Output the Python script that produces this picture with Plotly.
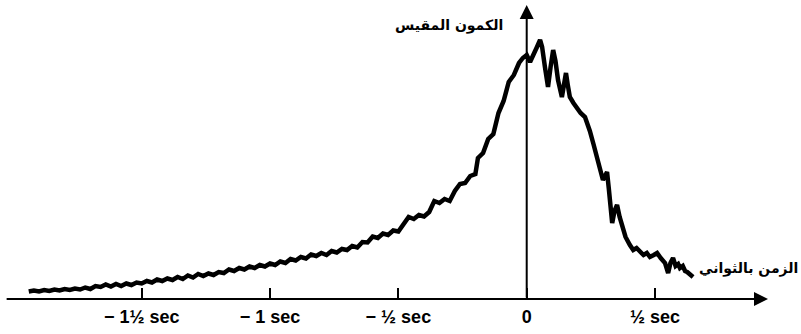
import plotly.graph_objects as go

# Measured potential (arbitrary units) against time in seconds
time_s = [
    -1.94, -1.92, -1.90, -1.88, -1.86, -1.84, -1.82, -1.80, -1.78, -1.76,
    -1.74, -1.72, -1.70, -1.68, -1.66, -1.64, -1.62, -1.60, -1.58, -1.56,
    -1.54, -1.52, -1.50, -1.48, -1.46, -1.44, -1.42, -1.40, -1.38, -1.36,
    -1.34, -1.32, -1.30, -1.28, -1.26, -1.24, -1.22, -1.20, -1.18, -1.16,
    -1.14, -1.12, -1.10, -1.08, -1.06, -1.04, -1.02, -1.00, -0.98, -0.96,
    -0.94, -0.92, -0.90, -0.88, -0.86, -0.84, -0.82, -0.80, -0.78, -0.76,
    -0.74, -0.72, -0.70, -0.68, -0.66, -0.64, -0.62, -0.60, -0.58, -0.56,
    -0.54, -0.52, -0.50, -0.48, -0.46, -0.44, -0.42, -0.40, -0.38, -0.36,
    -0.34, -0.32, -0.30, -0.28, -0.26, -0.24, -0.22, -0.20, -0.19, -0.17,
    -0.15, -0.13, -0.11, -0.09, -0.07, -0.05, -0.03, -0.015, 0.000, 0.013,
    0.025, 0.040, 0.052, 0.060, 0.071, 0.083, 0.093, 0.103, 0.112, 0.122,
    0.137, 0.147, 0.153, 0.160, 0.168, 0.182, 0.196, 0.210, 0.227, 0.236,
    0.246, 0.260, 0.274, 0.285, 0.297, 0.305, 0.313, 0.320, 0.325, 0.333,
    0.342, 0.352, 0.362, 0.372, 0.385, 0.402, 0.415, 0.428, 0.441, 0.455,
    0.468, 0.480, 0.495, 0.508, 0.522, 0.539, 0.551, 0.560, 0.570, 0.580,
    0.590, 0.597, 0.608, 0.617, 0.625, 0.635, 0.648,
]
potential = [
    7.5, 8.5, 7.5, 9, 8, 9.5, 8.5, 10, 9, 10.5,
    9.5, 11.5, 10, 13, 12, 14.5, 12.5, 15, 13, 15.5,
    14, 16.5, 15.5, 18, 16.5, 19.5, 18, 20.5, 19, 22,
    20, 23.5, 21.5, 25, 23, 25.5, 24, 27, 26, 29.5,
    28, 31, 29.5, 32.5, 31, 34, 32.5, 35.5, 34, 37.5,
    36, 40, 38.5, 42, 40.5, 44.5, 43, 46, 44, 48,
    46.5, 50, 49, 53, 51.5, 57, 56.5, 62.5, 61, 65.5,
    64, 68.5, 67.5, 74, 82, 80, 84, 82.5, 87, 98,
    96, 100, 98, 108, 115, 116, 123, 125, 141, 146,
    160, 165, 186, 198, 217, 224, 236, 241, 244, 237,
    243, 252, 259, 252, 232, 212, 232, 249, 238, 219,
    202, 214, 226, 214, 202, 196, 191, 186, 182, 176,
    168, 155, 142, 130, 119, 123, 127, 110, 96, 76,
    88, 94, 82, 72, 62, 54, 49, 51, 47, 44,
    46, 42, 44, 46, 41, 36, 26, 36, 41, 33,
    35, 31, 33, 28, 27, 25, 22,
]

tick_values = [-1.5, -1.0, -0.5, 0.0, 0.5]
tick_labels = ["− 1½ sec", "− 1 sec", "− ½ sec", "0", "½ sec"]

y_label = "الكمون المقيس"
x_label = "الزمن بالثواني"

fig = go.Figure()
fig.add_trace(go.Scatter(
    x=time_s, y=potential, mode="lines",
    line=dict(color="black", width=4.5),
    hoverinfo="skip", showlegend=False,
))

x_min, x_max = -2.052, 1.0686
fig.update_layout(
    width=801, height=334,
    margin=dict(l=0, r=0, t=0, b=35),
    paper_bgcolor="white", plot_bgcolor="white",
    xaxis=dict(
        range=[x_min, x_max], showgrid=False, zeroline=False, showline=False,
        tickvals=tick_values, ticktext=[f"<b>{t}</b>" for t in tick_labels],
        ticks="inside", ticklen=11, tickwidth=2, tickcolor="black",
        ticklabelstandoff=5,
        tickfont=dict(family="Liberation Sans", size=18, color="black"),
    ),
    yaxis=dict(
        range=[0, 299], showgrid=False, zeroline=False, showline=False,
        showticklabels=False, ticks="",
    ),
    font=dict(family="DejaVu Sans", color="black"),
)

# Axes drawn as arrows
fig.add_annotation(
    x=0.940, y=0, ax=-2.032, ay=0, xref="x", yref="y", axref="x", ayref="y",
    showarrow=True, arrowhead=2, arrowsize=1.4, arrowwidth=2, arrowcolor="black", text="",
)
fig.add_annotation(
    x=0, y=294, ax=0, ay=0, xref="x", yref="y", axref="x", ayref="y",
    showarrow=True, arrowhead=2, arrowsize=1.4, arrowwidth=2, arrowcolor="black", text="",
)

fig.add_annotation(
    x=-0.0845, y=274, xref="x", yref="y", xanchor="right", yanchor="middle",
    text=f"<b>{y_label}</b>", showarrow=False,
    font=dict(family="DejaVu Sans", size=14, color="black"),
)
fig.add_annotation(
    x=1.064, y=31, xref="x", yref="y", xanchor="right", yanchor="middle",
    text=f"<b>{x_label}</b>", showarrow=False,
    font=dict(family="DejaVu Sans", size=14, color="black"),
)

fig.write_html("out.html")
